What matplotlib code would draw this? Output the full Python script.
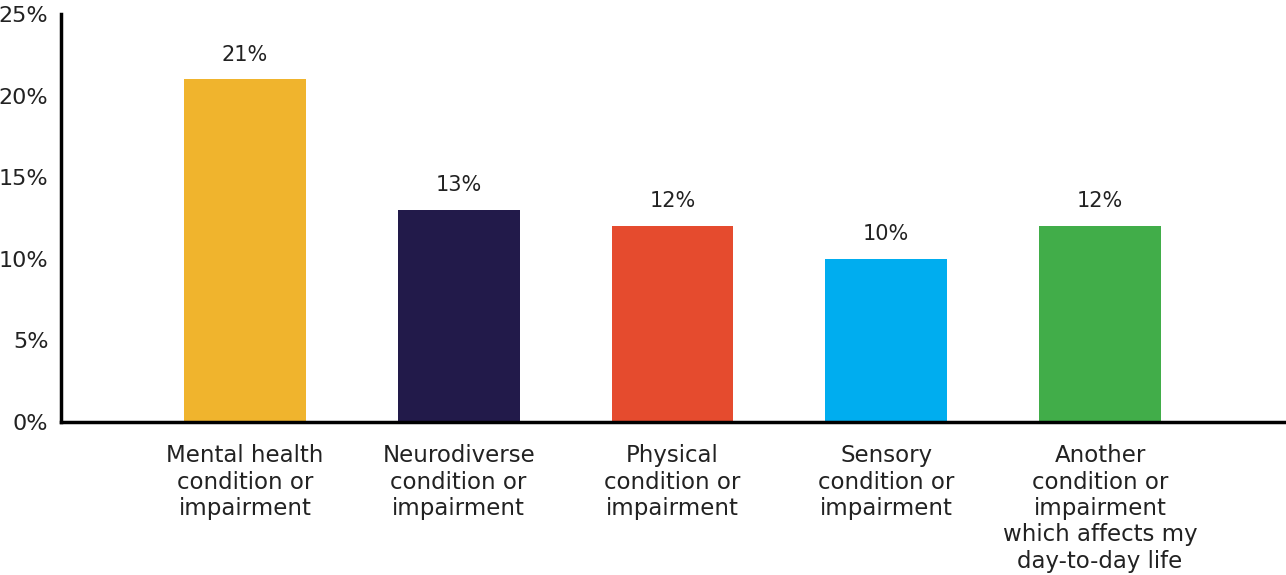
import matplotlib.pyplot as plt

plt.rcParams['font.family'] = ['DejaVu Sans']

categories = [
    "Mental health\ncondition or\nimpairment",
    "Neurodiverse\ncondition or\nimpairment",
    "Physical\ncondition or\nimpairment",
    "Sensory\ncondition or\nimpairment",
    "Another\ncondition or\nimpairment\nwhich affects my\nday-to-day life",
]
values = [21, 13, 12, 10, 12]
colours = ["#F0B42D", "#221A4A", "#E54B2E", "#00ADEF", "#41AD49"]
y_ticks = [0, 5, 10, 15, 20, 25]

W, H = 1286, 575
fig = plt.figure(figsize=(W / 100, H / 100), dpi=100)
ax = fig.add_axes([61 / W, (H - 422) / H, 1 - 61 / W, (422 - 14) / H])

x = range(len(values))
bars = ax.bar(x, values, width=0.57, color=colours)

for xi, v in zip(x, values):
    ax.text(xi, v + 0.9, f"{v}%", ha="center", va="bottom", fontsize=15, color="#222222")

ax.set_xlim(-0.86, 4.87)
ax.set_ylim(0, 25)
ax.set_yticks(y_ticks)
ax.set_yticklabels([f"{t}%" for t in y_ticks], fontsize=16, color="#222222")
ax.set_xticks(list(x))
ax.set_xticklabels(categories, fontsize=16.5, color="#222222", linespacing=1.19,
                   family="DejaVu Sans")
ax.tick_params(axis="both", length=0)
ax.tick_params(axis="x", pad=16)
ax.tick_params(axis="y", pad=9)

for side in ["top", "right"]:
    ax.spines[side].set_visible(False)
ax.spines["left"].set_linewidth(2.5)
ax.spines["bottom"].set_linewidth(2.5)

fig.savefig("out.png", dpi=100)
